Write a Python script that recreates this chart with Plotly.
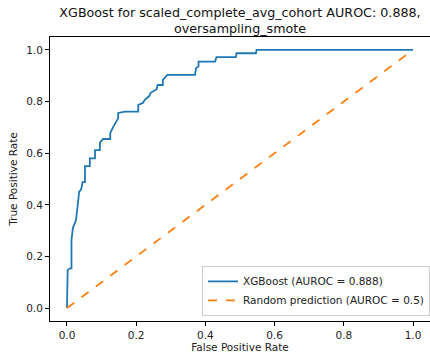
import plotly.graph_objects as go

# ROC curve
fpr = [0.0, 0.0, 0.002, 0.002, 0.009, 0.013, 0.013, 0.017, 0.026, 0.029, 0.032, 0.035, 0.041,
       0.045, 0.052, 0.052, 0.066, 0.066, 0.081, 0.081, 0.095, 0.095, 0.104, 0.125, 0.125,
       0.133, 0.139, 0.148, 0.148, 0.168, 0.206, 0.206, 0.220, 0.224, 0.238, 0.242, 0.259,
       0.262, 0.277, 0.277, 0.290, 0.370, 0.373, 0.380, 0.380, 0.428, 0.432, 0.488, 0.490,
       0.546, 0.548, 1.0]
tpr = [0.0, 0.111, 0.111, 0.147, 0.154, 0.154, 0.264, 0.310, 0.341, 0.368, 0.410, 0.450, 0.460,
       0.488, 0.488, 0.550, 0.550, 0.580, 0.580, 0.612, 0.612, 0.640, 0.655, 0.655, 0.678,
       0.700, 0.717, 0.736, 0.756, 0.761, 0.761, 0.787, 0.795, 0.806, 0.822, 0.834, 0.848,
       0.864, 0.864, 0.884, 0.903, 0.903, 0.930, 0.936, 0.955, 0.955, 0.972, 0.972, 0.987,
       0.987, 1.0, 1.0]
rand_x = [0.0, 1.0]
rand_y = [0.0, 1.0]

auroc = 0.888
title_text = "XGBoost for scaled_complete_avg_cohort AUROC: 0.888,<br>oversampling_smote"
x_ticks = [0.0, 0.2, 0.4, 0.6, 0.8, 1.0]
y_ticks = [0.0, 0.2, 0.4, 0.6, 0.8, 1.0]

FONT = "DejaVu Sans"

fig = go.Figure()
fig.add_trace(go.Scatter(x=fpr, y=tpr, mode="lines",
                         line=dict(color="#1f77b4", width=1.8),
                         name=f"XGBoost (AUROC = {auroc})"))
fig.add_trace(go.Scatter(x=rand_x, y=rand_y, mode="lines",
                         line=dict(color="#ff7f0e", width=1.8, dash="dash"),
                         name="Random prediction (AUROC = 0.5)"))

axis_common = dict(showgrid=False, zeroline=False, showline=True, linecolor="#000",
                   linewidth=1, ticks="outside", ticklen=4, tickcolor="#000",
                   tickfont=dict(family=FONT, size=10.5, color="#222"),
                   tickformat=".1f")

fig.update_layout(
    width=430, height=356,
    margin=dict(l=50, r=0, t=37, b=35),
    paper_bgcolor="white", plot_bgcolor="white",
    font=dict(family=FONT, color="#222"),
    title=dict(text=title_text, x=0.5, xref="paper", xanchor="center",
               y=0.953, yref="container", yanchor="middle",
               font=dict(family=FONT, size=12.7, color="#111")),
    xaxis=dict(range=[-0.0491, 1.0491], tickvals=x_ticks, mirror=True,
               title=dict(text="False Positive Rate", font=dict(family=FONT, size=10.5), standoff=4),
               **axis_common),
    yaxis=dict(range=[-0.05, 1.05], tickvals=y_ticks, mirror=False,
               title=dict(text="True Positive Rate", font=dict(family=FONT, size=10.5), standoff=6),
               **axis_common),
    legend=dict(x=1.0, y=0.018, xanchor="right", yanchor="bottom",
                bordercolor="#cccccc", borderwidth=1, bgcolor="rgba(255,255,255,0.8)",
                font=dict(family=FONT, size=10.5, color="#222"),
                tracegroupgap=0, itemwidth=30),
    showlegend=True,
)

fig.write_html("out.html")
